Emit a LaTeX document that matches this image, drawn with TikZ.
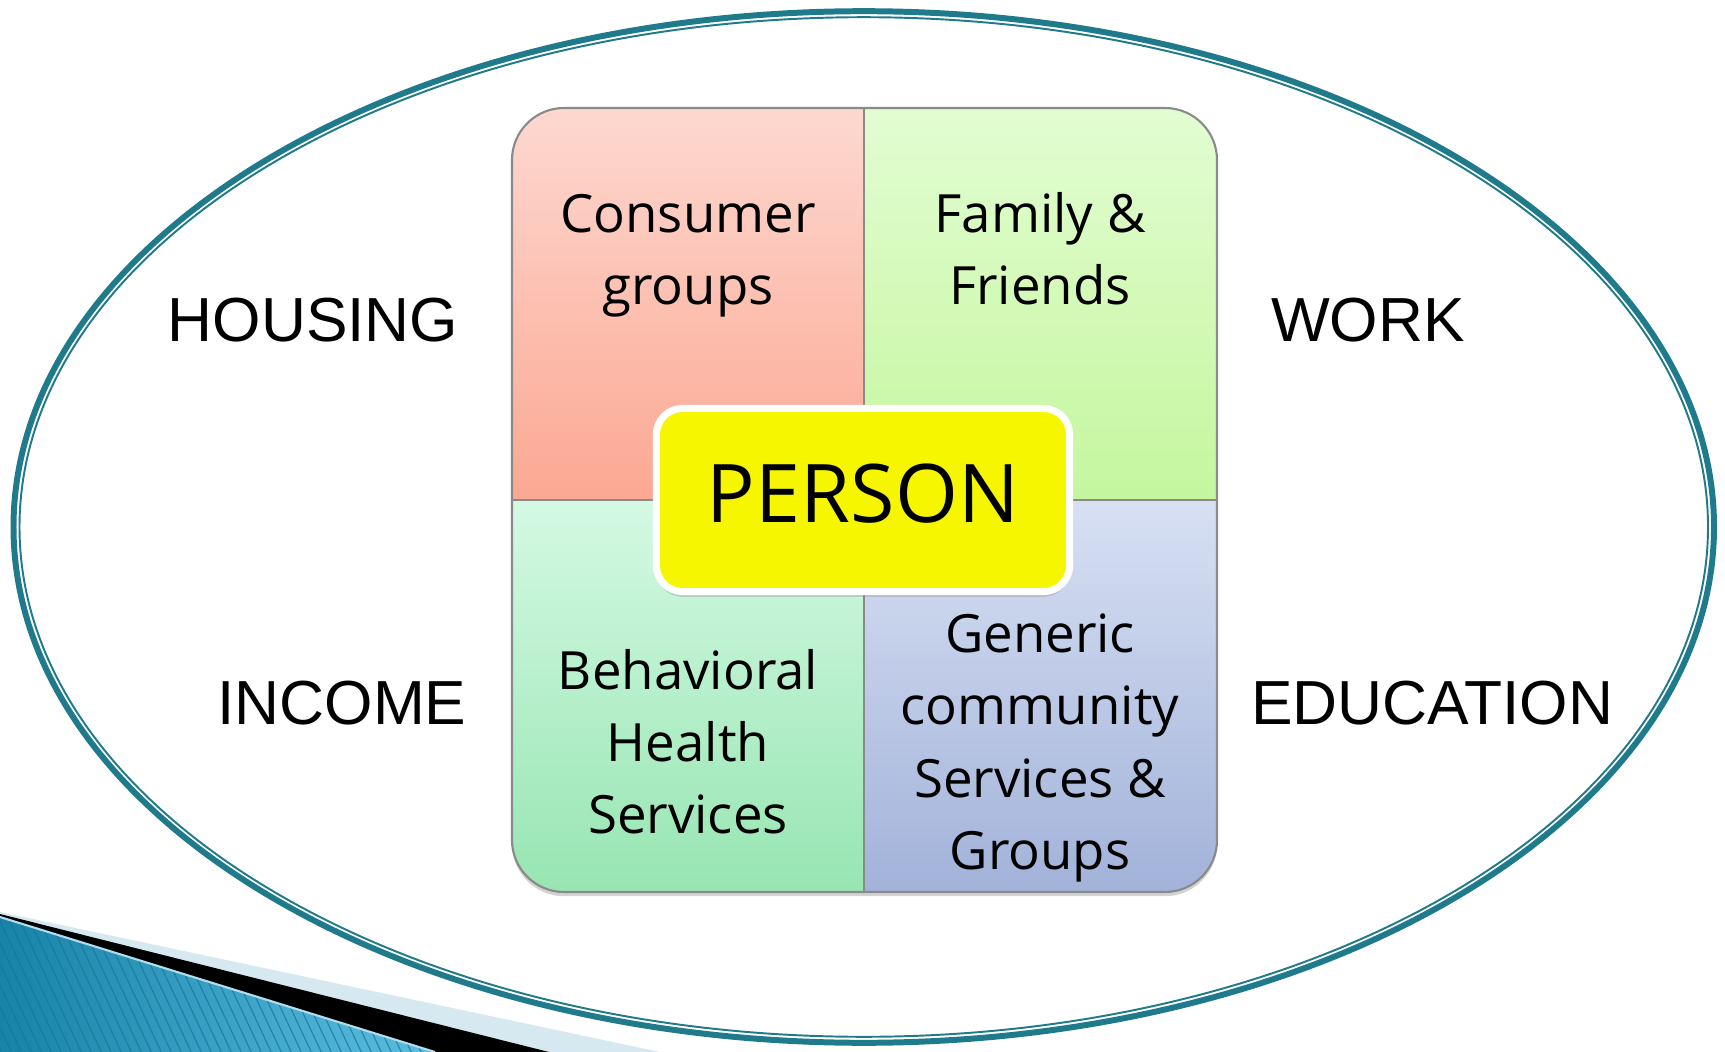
\documentclass[tikz,border=0pt]{standalone}
\usepackage{fontspec}
\setmainfont{Open Sans}
\newfontfamily\labelfont{Liberation Sans}
\usetikzlibrary{shadows}

\definecolor{ringteal}{HTML}{1F7A8C}
\definecolor{swooshpale}{HTML}{D6E9F0}
\definecolor{swooshdark}{HTML}{1783A8}
\definecolor{swooshlight}{HTML}{5CBFE2}
\definecolor{stripeblue}{HTML}{1A7596}
\definecolor{boxgray}{HTML}{8A8A8A}
\definecolor{tlTop}{HTML}{FDD8D0}
\definecolor{tlBot}{HTML}{FBA892}
\definecolor{trTop}{HTML}{E2FDD2}
\definecolor{trBot}{HTML}{C4F69E}
\definecolor{blTop}{HTML}{D4F9E3}
\definecolor{blBot}{HTML}{97E5B2}
\definecolor{brTop}{HTML}{D7E0F3}
\definecolor{brBot}{HTML}{A2B2D9}
\definecolor{personyellow}{HTML}{F6F600}

\begin{document}
\begin{tikzpicture}[x=0.01cm, y=-0.01cm,
  quadtext/.style={align=center, font=\fontsize{15}{20.5}\selectfont},
  outerlabel/.style={anchor=base, font=\labelfont\fontsize{17.7}{20}\selectfont},
  stripe/.style={draw=stripeblue, line width=0.35pt, opacity=0.7},
  person/.style={draw=white, line width=2pt, fill=personyellow, rounded corners=2.6mm,
    minimum width=4.13cm, minimum height=1.83cm, inner sep=0pt,
    text height=16.5pt, text depth=3.5pt, font=\fontsize{23}{26}\selectfont,
    drop shadow={opacity=0.3, shadow xshift=0pt, shadow yshift=-1.5pt}}]
\useasboundingbox (0,0) rectangle (1725,1052);

% swoosh in the lower left corner
\fill[swooshpale] (0,912) -- (660,1052) -- (0,1052) -- cycle;
\fill[black] (0,914) -- (549,1052) -- (0,1052) -- cycle;
\begin{scope}
\clip (0,917) -- (435,1052) -- (0,1052) -- cycle;
\shade[left color=swooshdark, right color=swooshlight] (0,900) rectangle (440,1052);
\foreach \i in {-20,...,45} \draw[stripe] (\i*10,900) -- ++(75,160);
\end{scope}
\draw[swooshpale!70!swooshlight, line width=0.6pt] (0,917) -- (435,1052);

% double ring
\draw[ringteal, line width=1.7pt] (863.75,527) ellipse [x radius=8.4975cm, y radius=5.155cm];
\draw[ringteal, line width=0.55pt] (863.75,527) ellipse [x radius=8.4375cm, y radius=5.095cm];

% four quarters
\fill[white, rounded corners=5.2mm, drop shadow={opacity=0.35, shadow xshift=0pt, shadow yshift=-1.2pt}] (512,108) rectangle (1217,892);
\begin{scope}
\clip[rounded corners=5.2mm] (512,108) rectangle (1217,892);
\shade[top color=tlTop, bottom color=tlBot] (512,108) rectangle (864,500);
\shade[top color=trTop, bottom color=trBot] (864,108) rectangle (1217,500);
\shade[top color=blTop, bottom color=blBot] (512,500) rectangle (864,892);
\shade[top color=brTop, bottom color=brBot] (864,500) rectangle (1217,892);
\end{scope}
\draw[boxgray, line width=0.6pt, rounded corners=5.2mm] (512,108) rectangle (1217,892);
\draw[boxgray, line width=0.6pt] (864,108) -- (864,892) (512,500) -- (1217,500);

\node[quadtext] (consumer) at (688,256) {Consumer\\groups};
\node[quadtext] (family) at (1040,249) {Family \&\\Friends};
\node[quadtext] (behavioral) at (688,742) {Behavioral\\Health\\Services};
\node[quadtext] (generic) at (1040,748) {Generic\\community\\Services \&\\Groups};

\node[person] (person) at (863,500) {PERSON};

% surroundings
\node[outerlabel] (housing) at (313,341) {HOUSING};
\node[outerlabel] (work) at (1368,341) {WORK};
\node[outerlabel] (income) at (342,724) {INCOME};
\node[outerlabel] (education) at (1432,724) {EDUCATION};
\end{tikzpicture}
\end{document}
